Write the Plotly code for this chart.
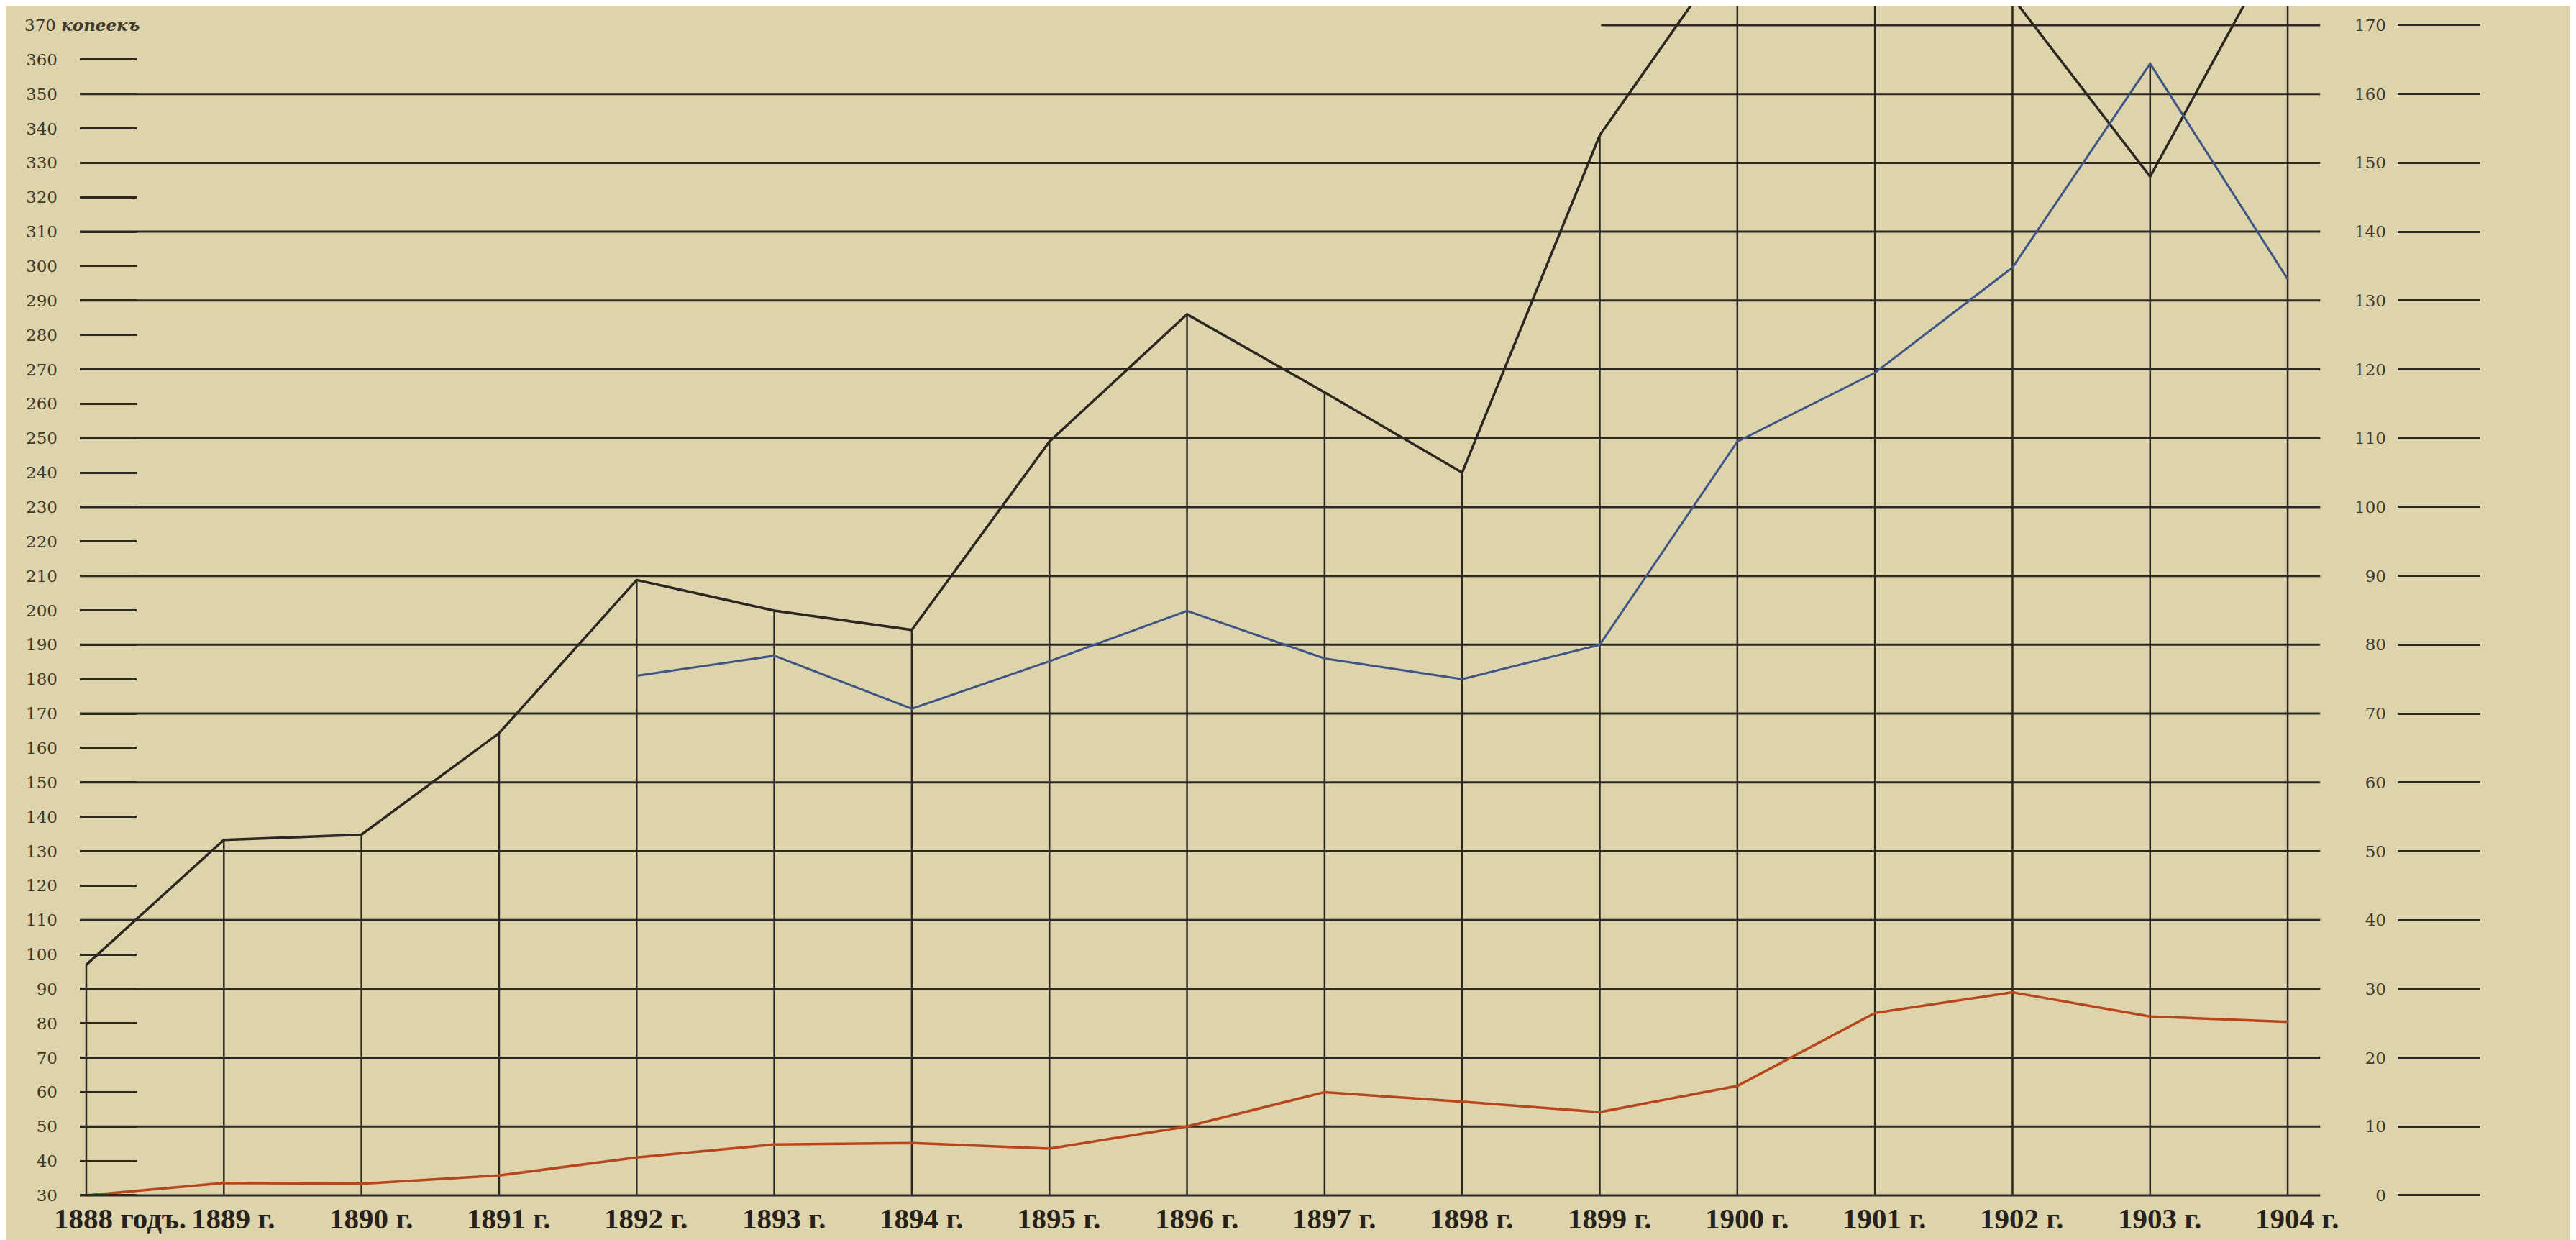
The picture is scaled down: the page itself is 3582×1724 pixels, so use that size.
import plotly.graph_objects as go

# ---------------- data ----------------
years = list(range(1888, 1905))
year_labels = ["1888 годъ.", "1889 г.", "1890 г.", "1891 г.", "1892 г.", "1893 г.",
               "1894 г.", "1895 г.", "1896 г.", "1897 г.", "1898 г.", "1899 г.",
               "1900 г.", "1901 г.", "1902 г.", "1903 г.", "1904 г."]

# black line, left scale (копеекъ)
black_kop = [97, 133.3, 134.8, 164.3, 208.8, 199.9, 194.3, 249, 286, 263.3, 240,
             338, 395, 400, 378, 326, 399]
# blue line, right scale
blue_vals = [None, None, None, None, 75.5, 78.4, 70.7, 77.6, 84.9, 78, 75, 80,
             109.5, 119.5, 134.8, 164.4, 133.1]
# red line, right scale
red_vals = [0, 1.8, 1.7, 2.9, 5.5, 7.4, 7.6, 6.8, 10, 15, 13.6, 12.1, 15.9,
            26.5, 29.5, 26, 25.2]

left_ticks = list(range(30, 370, 10))      # 30 .. 360
left_top_label = "370"
left_unit = "копеекъ"
right_ticks = list(range(0, 180, 10))      # 0 .. 170
grid_left_vals = list(range(30, 370, 20))  # long horizontal rules

# ---------------- style ----------------
BG = "#ddd4ac"
INK = "#2c2720"
TXT = "#3e382d"
BLUE = "#3f5684"
RED = "#b8461c"

W, H = 3582, 1724
ML, MR, MT, MB = 103, 257, 0, 56

def left_to_right(v):
    return (v - 30) / 2.0

y_range = [27.07, 375.64]
y2_range = [left_to_right(y_range[0]), left_to_right(y_range[1])]
x_range = [1887.953, 1904.794]

fig = go.Figure()

# vertical drop lines at each year up to the highest curve
vx, vy = [], []
for i, yr in enumerate(years):
    top = black_kop[i]
    if blue_vals[i] is not None:
        top = max(top, 30 + 2 * blue_vals[i])
    vx += [yr, yr, None]
    vy += [30, top, None]
fig.add_trace(go.Scatter(x=vx, y=vy, mode="lines",
                         line=dict(color=INK, width=2.5),
                         hoverinfo="skip", showlegend=False))

fig.add_trace(go.Scatter(x=years, y=black_kop, mode="lines",
                         line=dict(color=INK, width=3.5),
                         showlegend=False, name="копеекъ"))
fig.add_trace(go.Scatter(x=years, y=blue_vals, mode="lines", yaxis="y2",
                         line=dict(color=BLUE, width=3),
                         showlegend=False, connectgaps=False))
fig.add_trace(go.Scatter(x=years, y=red_vals, mode="lines", yaxis="y2",
                         line=dict(color=RED, width=3.5),
                         showlegend=False))

shapes = []
for gv in grid_left_vals:
    shapes.append(dict(type="line", xref="x", yref="y", x0=x_range[0], x1=1904.236,
                       y0=gv, y1=gv, line=dict(color=INK, width=3), layer="below"))
# partial top rule
shapes.append(dict(type="line", xref="x", yref="y", x0=1899.01, x1=1904.236,
                   y0=370, y1=370, line=dict(color=INK, width=3), layer="below"))

annotations = []
for yr, lab in zip(years, year_labels):
    annotations.append(dict(x=yr, xref="x", y=0, yref="paper", text=lab,
                            showarrow=False, xanchor="left", yanchor="middle",
                            xshift=-47, yshift=-18,
                            font=dict(family="Liberation Serif", size=41,
                                      color="#27221b", weight="bold")))
annotations.append(dict(x=0, xref="paper", y=370, yref="y", xanchor="left",
                        yanchor="middle", xshift=-79, showarrow=False,
                        text=left_top_label + " <i><b>" + left_unit + "</b></i>",
                        font=dict(family="DejaVu Serif", size=23, color=TXT)))

fig.update_layout(
    width=W, height=H, template="none",
    paper_bgcolor=BG, plot_bgcolor=BG,
    margin=dict(l=ML, r=MR, t=MT, b=MB, autoexpand=False),
    showlegend=False,
    shapes=shapes, annotations=annotations,
    xaxis=dict(range=x_range, showgrid=False, zeroline=False, showline=False,
               showticklabels=False, ticks="", automargin=False),
    yaxis=dict(range=y_range, tickvals=left_ticks,
               ticktext=[str(v) for v in left_ticks],
               ticks="inside", ticklen=79, tickwidth=3, tickcolor=INK,
               showgrid=False, zeroline=False, showline=False,
               ticklabelstandoff=30, automargin=False,
               tickfont=dict(family="DejaVu Serif", size=23, color=TXT)),
    yaxis2=dict(range=y2_range, overlaying="y", side="right",
                tickvals=right_ticks, ticktext=[str(v) for v in right_ticks],
                ticks="outside", ticklen=115, tickwidth=3, tickcolor=INK,
                ticklabelposition="inside", ticklabelstandoff=12,
                showgrid=False, zeroline=False, showline=False, automargin=False,
                tickfont=dict(family="DejaVu Serif", size=23, color=TXT)),
)

fig.write_html("out.html")
